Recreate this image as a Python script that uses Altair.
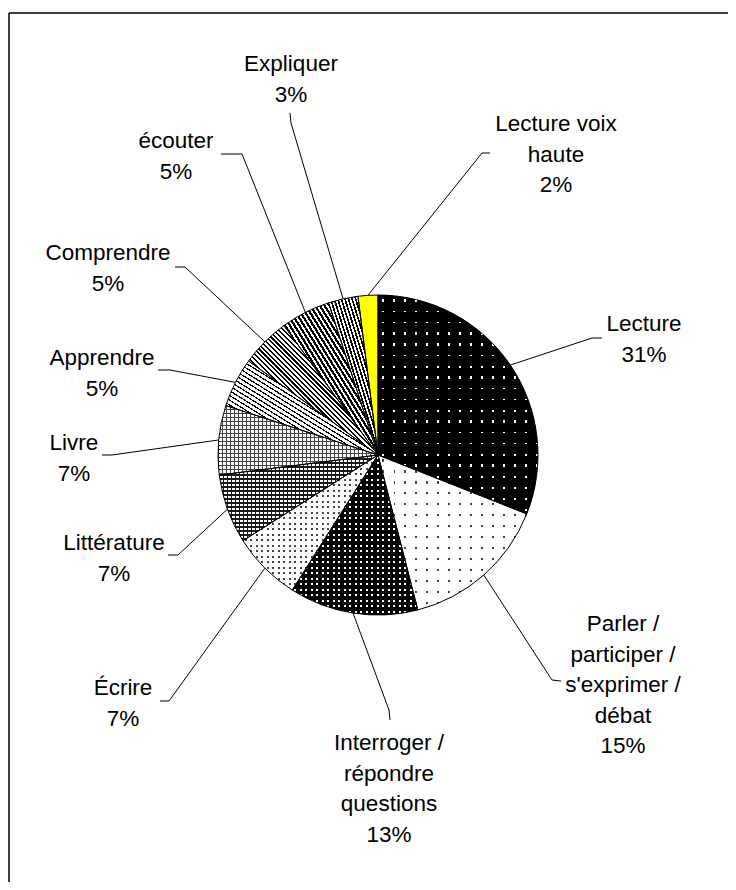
import math
import altair as alt
import pandas as pd

# ---------------- data ----------------
categories = [
    "Lecture",
    "Parler / participer / s'exprimer / débat",
    "Interroger / répondre questions",
    "Écrire",
    "Littérature",
    "Livre",
    "Apprendre",
    "Comprendre",
    "écouter",
    "Expliquer",
    "Lecture voix haute",
]
values = [31, 15, 13, 7, 7, 7, 5, 5, 5, 3, 2]
label_lines = [
    ["Lecture"],
    ["Parler /", "participer /", "s'exprimer /", "débat"],
    ["Interroger /", "répondre", "questions"],
    ["Écrire"],
    ["Littérature"],
    ["Livre"],
    ["Apprendre"],
    ["Comprendre"],
    ["écouter"],
    ["Expliquer"],
    ["Lecture voix", "haute"],
]

# ---------------- layout (page pixels) ----------------
CX, CY, R = 378, 455, 160
LINE_H = 30.5
FONT = "Liberation Sans, Arial, sans-serif"
FONT_SIZE = 22.5
label_xy = [(644, 323), (623, 623), (389, 742), (123, 687), (114, 542), (74, 442),
            (102, 357), (108, 252), (176, 140), (291, 63), (556, 123)]
elbow = [(592, 338), (552, 680), (389, 710), (169, 701), (178, 555), (112, 455),
         (170, 370), (185, 267), (242, 154), (291, 123), (482, 153)]
tick_end = [(602, 338), (561, 681), (390, 720), (160, 701), (168, 555), (102, 455),
            (158, 370), (175, 267), (221, 154), (290, 113), (490, 153)]

# ---------------- fill styles (patterns approximated with gradients) ----------------
# ("dots", background, dot colour, pitch px, dot size px) / ("stripes", spacing px, black fraction)
fills = [
    ("dots", "#000000", "#ffffff", 11.0, 2.0),   # Lecture
    ("dots", "#ffffff", "#444444", 11.0, 2.0),   # Parler
    ("dots", "#000000", "#ffffff", 5.5, 2.0),    # Interroger
    ("dots", "#ffffff", "#444444", 5.5, 2.0),    # Écrire
    ("dots", "#1a1a1a", "#ffffff", 4.0, 2.8),    # Littérature
    ("dots", "#444444", "#ffffff", 4.0, 3.0),    # Livre
    ("stripes", 4.0, 0.30),                      # Apprendre
    ("stripes", 3.4, 0.45),                      # Comprendre
    ("stripes", 4.0, 0.55),                      # écouter
    ("stripes", 3.4, 0.50),                      # Expliquer
    "#ffff00",                                   # Lecture voix haute
]
CLEAR = "rgba(255,255,255,0)"

XS = alt.Scale(domain=[8, 728], range=[0, 720], nice=False, zero=False)
YS = alt.Scale(domain=[8, 882], range=[0, 874], nice=False, zero=False)
TS = alt.Scale(domain=[0, 100], range=[0, 2 * math.pi])

total = sum(values)
starts, ends = [], []
acc = 0.0
for v in values:
    starts.append(acc / total * 100)
    acc += v
    ends.append(acc / total * 100)

slices = pd.DataFrame({"idx": range(len(values)), "cat": categories,
                       "t0": starts, "t1": ends})


def sector_bbox(p0, p1):
    a0, a1 = p0 / 100 * 2 * math.pi, p1 / 100 * 2 * math.pi
    angs = [a0, a1] + [k * math.pi / 2 for k in range(5) if a0 < k * math.pi / 2 < a1]
    xs = [CX] + [CX + R * math.sin(a) for a in angs]
    ys = [CY] + [CY - R * math.cos(a) for a in angs]
    return max(xs) - min(xs), max(ys) - min(ys)


def banded(direction, extent, segments):
    """Repeating hard-edged bands (segments = [(colour, width px), ...])."""
    stops = []
    pos = 0.0
    while pos < extent:
        for col, wid in segments:
            a = pos / extent
            pos += wid
            b = min(pos / extent, 1.0)
            stops.append((round(min(a, 1.0), 6), col))
            stops.append((round(b, 6), col))
            if b >= 1.0:
                break
    coords = {"v": dict(x1=0, y1=0, x2=1, y2=0),
              "h": dict(x1=0, y1=0, x2=0, y2=1),
              "d": dict(x1=0, y1=1, x2=1, y2=0)}[direction]
    return alt.LinearGradient(
        gradient="linear",
        stops=[alt.GradientStop(color=c, offset=o) for o, c in stops],
        **coords,
    )


def arc_layer(i, fill):
    return (
        alt.Chart(slices)
        .transform_filter(alt.datum.idx == i)
        .mark_arc(fill=fill, strokeWidth=0, radius=R)
        .encode(
            theta=alt.Theta("t0:Q", scale=TS),
            theta2=alt.Theta2("t1:Q"),
            x=alt.value(CX - 8),
            y=alt.value(CY - 8),
        )
    )


layers = []
for i in range(len(values)):
    f = fills[i]
    w, h = sector_bbox(starts[i], ends[i])
    if isinstance(f, tuple) and f[0] == "stripes":
        _, sp, frac = f
        D = 2 / math.sqrt(1 / w ** 2 + 1 / h ** 2)
        layers.append(arc_layer(i, banded("d", D, [("#000000", sp * frac), ("#ffffff", sp * (1 - frac))])))
    elif isinstance(f, tuple) and f[0] == "dots":
        _, bg, dc, pitch, ds = f
        layers.append(arc_layer(i, banded("v", w, [(bg, (pitch - ds) / 2), (dc, ds), (bg, (pitch - ds) / 2)])))
        layers.append(arc_layer(i, banded("h", h, [(bg, (pitch - ds) / 2), (CLEAR, ds), (bg, (pitch - ds) / 2)])))
    else:
        layers.append(arc_layer(i, f))

outline = alt.Chart(slices).mark_arc(
    fill="transparent", stroke="black", strokeWidth=1, radius=R
).encode(
    theta=alt.Theta("t0:Q", scale=TS),
    theta2=alt.Theta2("t1:Q"),
    x=alt.value(CX - 8),
    y=alt.value(CY - 8),
)

# leader lines: pie edge at slice mid-angle -> elbow -> short tick
line_rows = []
for i in range(len(values)):
    mid = (starts[i] + ends[i]) / 2 / 100 * 2 * math.pi
    ex, ey = CX + R * math.sin(mid), CY - R * math.cos(mid)
    pts = [(ex, ey), elbow[i], tick_end[i]]
    for k, (px, py) in enumerate(pts):
        line_rows.append({"id": i, "o": k, "x": px, "y": py})
lines_df = pd.DataFrame(line_rows)

leaders = alt.Chart(lines_df).mark_line(color="black", strokeWidth=1).encode(
    x=alt.X("x:Q", scale=XS, axis=None),
    y=alt.Y("y:Q", scale=YS, axis=None),
    detail="id:N",
    order="o:Q",
)

# labels
text_rows = []
for i in range(len(values)):
    lx, ly = label_xy[i]
    ls = label_lines[i] + [f"{values[i]}%"]
    for k, t in enumerate(ls):
        text_rows.append({"x": lx, "y": ly + k * LINE_H + 8, "t": t})
text_df = pd.DataFrame(text_rows)

labels = alt.Chart(text_df).mark_text(
    font=FONT, fontSize=FONT_SIZE, color="black", align="center", baseline="alphabetic"
).encode(
    x=alt.X("x:Q", scale=XS, axis=None),
    y=alt.Y("y:Q", scale=YS, axis=None),
    text="t:N",
)

# frame (left, top, right)
frame_df = pd.DataFrame({
    "x": [9, 9, 729], "y": [13, 13, 13],
    "x2": [9, 729, 729], "y2": [882, 13, 882],
})
frame = alt.Chart(frame_df).mark_rule(color="black", strokeWidth=1.5).encode(
    x=alt.X("x:Q", scale=XS, axis=None),
    y=alt.Y("y:Q", scale=YS, axis=None),
    x2="x2:Q",
    y2="y2:Q",
)

chart = alt.layer(frame, *layers, outline, leaders, labels).properties(
    width=720, height=874, autosize=alt.AutoSizeParams(type="none"), padding=0,
    background="white",
).configure_view(stroke=None)

chart.save("out.html", embed_options={"renderer": "svg", "actions": False})
